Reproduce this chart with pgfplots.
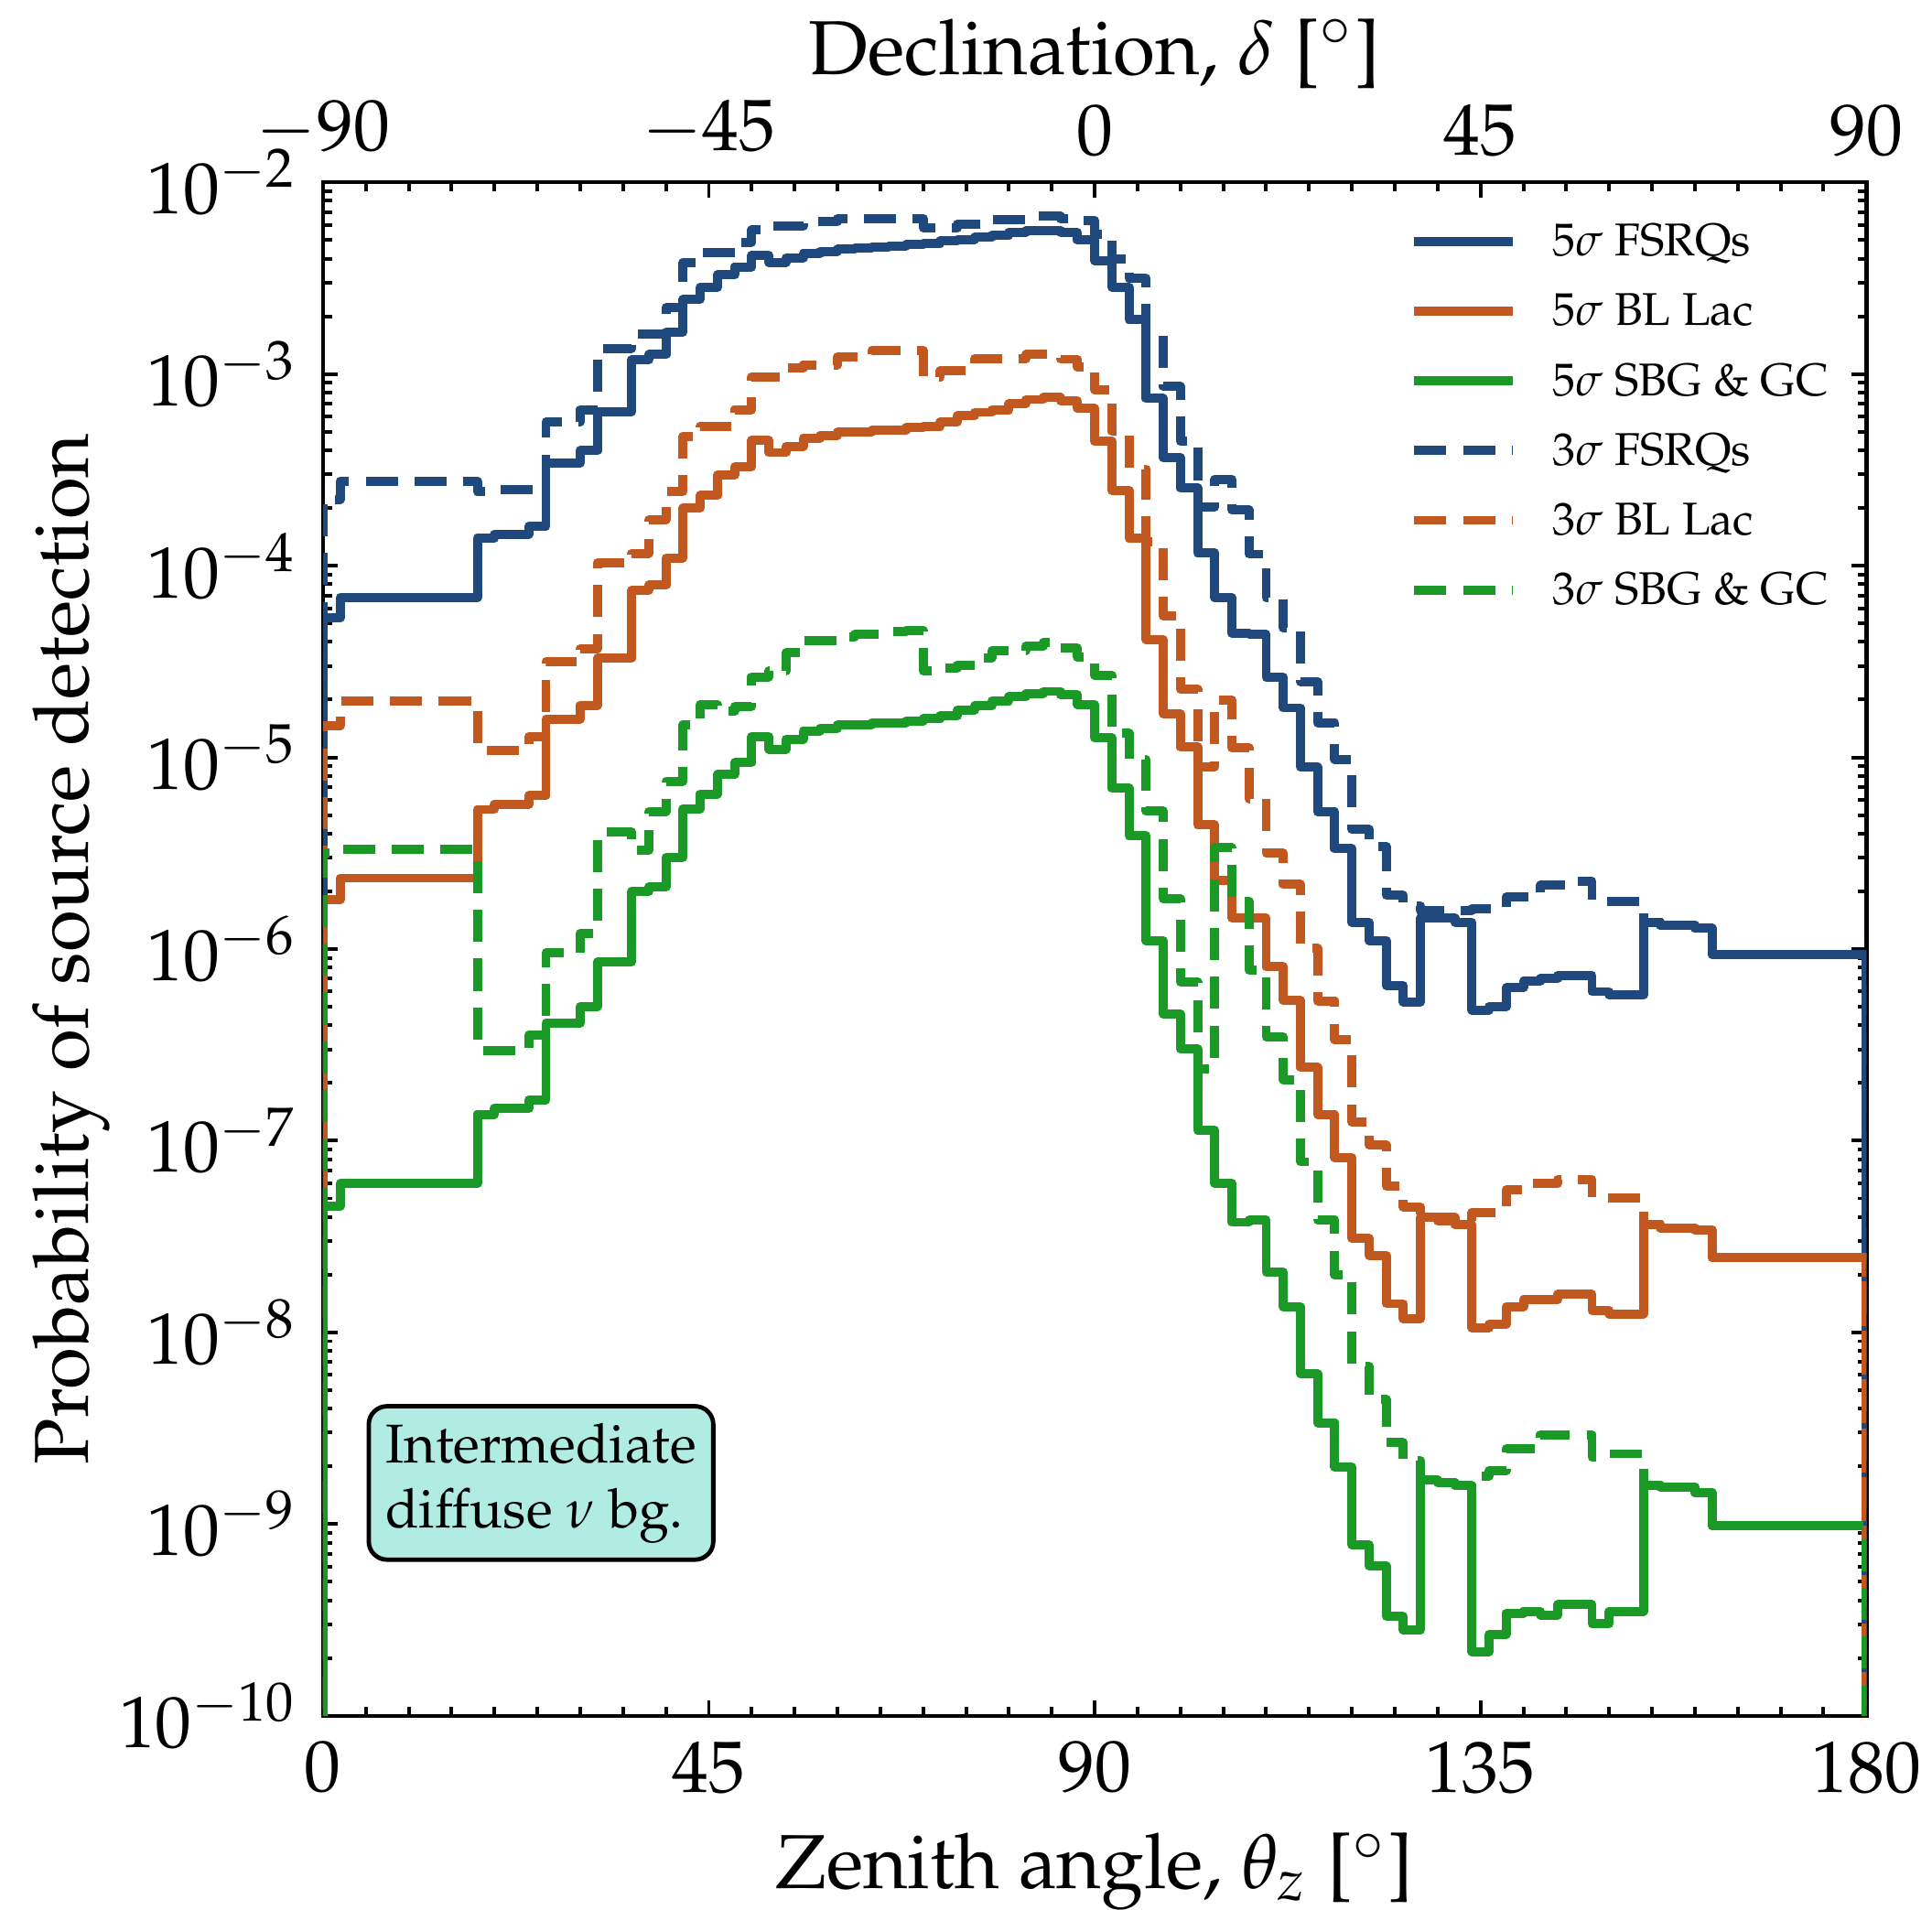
\documentclass[border=0pt]{standalone}
\usepackage[T1]{fontenc}
\usepackage{mathpazo}
\usepackage{pgfplots}
\usepackage{pgfplotstable}
\pgfplotsset{compat=1.18}
\definecolor{cB}{RGB}{31,73,125}
\definecolor{cO}{RGB}{192,88,32}
\definecolor{cG}{RGB}{26,153,38}
\definecolor{mint}{RGB}{176,236,226}

% columns: zenith angle (deg), log10 of probability
\pgfplotstableread{
x l
0 -12
0 -4.273
2 -4.167
18 -3.858
20 -3.836
24 -3.794
26 -3.464
30 -3.400
32 -3.197
36 -2.927
38 -2.899
40 -2.782
42 -2.611
44 -2.547
46 -2.483
48 -2.441
50 -2.381
52 -2.419
54 -2.394
56 -2.372
58 -2.360
60 -2.350
62 -2.345
64 -2.338
66 -2.333
68 -2.326
70 -2.318
72 -2.307
74 -2.298
76 -2.287
78 -2.277
80 -2.262
82 -2.252
84 -2.250
86 -2.262
88 -2.302
90 -2.409
92 -2.547
94 -2.717
96 -3.128
98 -3.436
100 -3.596
102 -3.933
104 -4.167
106 -4.352
108 -4.358
110 -4.582
112 -4.742
114 -5.051
116 -5.285
118 -5.477
120 -5.860
122 -5.956
124 -6.190
126 -6.276
128 -5.839
132 -5.860
134 -6.318
136 -6.300
138 -6.201
140 -6.169
142 -6.155
144 -6.137
148 -6.222
150 -6.240
154 -5.860
156 -5.875
160 -5.892
162 -6.027
180 -6.027
180 -12
}\bS

\pgfplotstableread{
x l
0 -12
0 -3.655
2 -3.559
18 -3.613
20 -3.605
26 -3.250
30 -3.186
32 -2.867
36 -2.792
40 -2.654
42 -2.419
44 -2.366
48 -2.313
50 -2.249
52 -2.228
56 -2.206
60 -2.189
70 -2.238
74 -2.217
78 -2.196
82 -2.178
86 -2.191
88 -2.199
90 -2.270
92 -2.398
94 -2.501
96 -2.785
98 -3.066
100 -3.352
102 -3.695
104 -3.550
106 -3.710
108 -3.940
110 -4.167
112 -4.326
114 -4.605
116 -4.820
118 -5.010
120 -5.376
122 -5.464
124 -5.720
126 -5.774
128 -5.800
134 -5.790
138 -5.730
142 -5.668
146 -5.647
148 -5.750
154 -5.860
156 -5.875
160 -5.892
162 -6.027
180 -6.027
180 -12
}\bD

\pgfplotstableread{
x l
0 -12
0 -5.743
2 -5.630
18 -5.272
20 -5.245
24 -5.200
26 -4.800
30 -4.728
32 -4.484
36 -4.128
38 -4.102
40 -3.960
42 -3.700
44 -3.634
46 -3.527
48 -3.485
50 -3.346
52 -3.410
54 -3.378
56 -3.336
58 -3.320
60 -3.304
64 -3.295
68 -3.280
70 -3.272
72 -3.250
74 -3.218
76 -3.200
78 -3.187
80 -3.155
82 -3.133
84 -3.123
86 -3.140
88 -3.180
90 -3.352
92 -3.607
94 -3.856
96 -4.385
98 -4.772
100 -4.947
102 -5.352
104 -5.640
106 -5.838
110 -6.093
112 -6.268
114 -6.618
116 -6.864
118 -7.087
120 -7.509
122 -7.598
124 -7.850
126 -7.930
128 -7.400
130 -7.418
132 -7.437
134 -7.976
136 -7.957
138 -7.866
140 -7.830
144 -7.802
148 -7.884
150 -7.903
154 -7.437
156 -7.455
160 -7.464
162 -7.610
180 -7.610
180 -12
}\oS

\pgfplotstableread{
x l
0 -12
0 -4.837
2 -4.705
18 -4.965
24 -4.891
26 -4.501
30 -4.433
32 -3.985
36 -3.936
38 -3.761
40 -3.613
42 -3.325
44 -3.272
48 -3.186
50 -3.016
54 -2.970
56 -2.952
60 -2.910
64 -2.878
70 -3.016
72 -2.984
76 -2.920
82 -2.899
86 -2.923
88 -2.963
90 -3.082
92 -3.300
94 -3.496
96 -3.877
98 -4.263
100 -4.645
102 -5.050
104 -4.700
106 -4.950
108 -5.217
110 -5.500
112 -5.663
114 -5.997
116 -6.270
118 -6.474
120 -6.904
122 -7.023
124 -7.238
126 -7.345
128 -7.400
132 -7.437
134 -7.373
138 -7.256
140 -7.224
144 -7.203
148 -7.299
154 -7.437
156 -7.455
160 -7.464
162 -7.610
180 -7.610
180 -12
}\oD

\pgfplotstableread{
x l
0 -12
0 -7.341
2 -7.224
18 -6.862
20 -6.830
24 -6.787
26 -6.387
30 -6.300
32 -6.067
36 -5.700
38 -5.675
40 -5.522
42 -5.268
44 -5.191
46 -5.090
48 -5.028
50 -4.891
52 -4.957
54 -4.905
56 -4.862
58 -4.848
60 -4.831
64 -4.820
68 -4.810
70 -4.799
72 -4.784
74 -4.752
76 -4.731
78 -4.705
80 -4.684
82 -4.667
84 -4.656
86 -4.674
88 -4.724
90 -4.899
92 -5.162
94 -5.408
96 -5.957
98 -6.339
100 -6.522
102 -6.944
104 -7.222
106 -7.425
108 -7.415
110 -7.684
112 -7.867
114 -8.217
116 -8.471
118 -8.702
120 -9.108
122 -9.219
124 -9.482
126 -9.553
128 -8.770
130 -8.785
132 -8.798
134 -9.665
136 -9.574
138 -9.464
140 -9.455
142 -9.474
144 -9.419
148 -9.520
150 -9.455
154 -8.798
156 -8.807
160 -8.834
162 -9.008
180 -9.008
180 -12
}\gS

\pgfplotstableread{
x l
0 -12
0 -5.498
2 -5.478
18 -6.530
24 -6.448
26 -6.020
30 -5.918
32 -5.390
36 -5.486
38 -5.282
40 -5.125
42 -4.830
44 -4.725
46 -4.760
48 -4.735
50 -4.580
52 -4.550
54 -4.454
56 -4.390
60 -4.370
62 -4.358
66 -4.345
68 -4.337
70 -4.550
72 -4.535
74 -4.518
76 -4.480
78 -4.443
82 -4.420
84 -4.401
86 -4.430
88 -4.477
90 -4.573
92 -4.875
94 -5.010
96 -5.280
98 -5.738
100 -6.172
102 -6.626
104 -5.472
106 -5.750
108 -6.110
110 -6.458
112 -6.681
114 -7.110
116 -7.413
118 -7.700
120 -8.177
122 -8.350
124 -8.575
126 -8.670
128 -8.770
130 -8.785
132 -8.798
134 -8.750
136 -8.720
138 -8.606
142 -8.533
148 -8.650
150 -8.633
154 -8.798
156 -8.807
160 -8.834
162 -9.008
180 -9.008
180 -12
}\gD

\begin{document}
\begin{tikzpicture}
\begin{axis}[
  scale only axis, width=211.7pt, height=210.35pt,
  xmin=0, xmax=180, ymode=log, ymin=1e-10, ymax=1e-2,
  xtick={0,45,90,135,180}, minor x tick num=8,
  ytick={1e-10,1e-9,1e-8,1e-7,1e-6,1e-5,1e-4,1e-3,1e-2},
  tick align=inside, major tick length=2.07pt, minor tick length=1.23pt,
  tick style={black, line width=0.5pt},
  axis line style={line width=0.55pt},
  xlabel={Zenith angle, $\theta_z$ [$^\circ$]},
  ylabel={Probability of source detection},
  label style={font=\fontsize{10.5}{12}\selectfont},
  xlabel style={yshift=1.4pt},
  ylabel style={yshift=-5.6pt},
  tick label style={font=\fontsize{10}{12}\selectfont},
  legend cell align=left,
  legend image code/.code={\draw[#1] (0pt,0pt) -- (13.5pt,0pt);},
  legend style={at={(rel axis cs:0.7032,0.9766)}, anchor=north west,
    draw=none, fill=none, inner sep=0pt, row sep=3.56pt,
    font=\fontsize{6.3}{7.5}\selectfont,
    nodes={inner xsep=0pt, inner ysep=0pt, text height=5pt, text depth=1pt},
    /tikz/every odd column/.append style={column sep=4.9pt}},
  every axis plot/.append style={line width=1.25pt, line join=round},
]
\coordinate (SW) at (rel axis cs:0,0);
\coordinate (NE) at (rel axis cs:1,1);
\addplot[cB, const plot] table[x=x, y expr={10^(\thisrow{l})}] {\bS};
\addlegendentry{$5\sigma$ FSRQs}
\addplot[cO, const plot] table[x=x, y expr={10^(\thisrow{l})}] {\oS};
\addlegendentry{$5\sigma$ BL Lac}
\addplot[cG, const plot] table[x=x, y expr={10^(\thisrow{l})}] {\gS};
\addlegendentry{$5\sigma$ SBG \& GC}
\addplot[cB, const plot, dash pattern=on 4.4pt off 2.3pt] table[x=x, y expr={10^(\thisrow{l})}] {\bD};
\addlegendentry{$3\sigma$ FSRQs}
\addplot[cO, const plot, dash pattern=on 4.4pt off 2.3pt] table[x=x, y expr={10^(\thisrow{l})}] {\oD};
\addlegendentry{$3\sigma$ BL Lac}
\addplot[cG, const plot, dash pattern=on 4.4pt off 2.3pt] table[x=x, y expr={10^(\thisrow{l})}] {\gD};
\addlegendentry{$3\sigma$ SBG \& GC}
\node[draw=black, line width=0.6pt, fill=mint, rounded corners=2.5pt, align=left,
  font=\fontsize{7.5}{8.9}\selectfont, inner xsep=2.3pt, inner ysep=2.3pt]
  at (axis cs:25.43,1.64e-9) {Intermediate\\diffuse $\nu$ bg.};
\end{axis}
\begin{axis}[
  scale only axis, width=211.7pt, height=210.35pt,
  xmin=-90, xmax=90, ymin=0, ymax=1,
  hide y axis, axis x line*=top, axis line style={draw=none},
  xtick={-90,-45,0,45,90}, minor xtick={}, xtick style={draw=none},
  xlabel={Declination, $\delta$ [$^\circ$]},
  label style={font=\fontsize{10.5}{12}\selectfont},
  xlabel style={yshift=-5.4pt},
  tick label style={font=\fontsize{10}{12}\selectfont},
]
\end{axis}
\pgfresetboundingbox
\path ([shift={(-44.3pt,-26.6pt)}]SW) rectangle ([shift={(9.0pt,25.0pt)}]NE);
\end{tikzpicture}
\end{document}
